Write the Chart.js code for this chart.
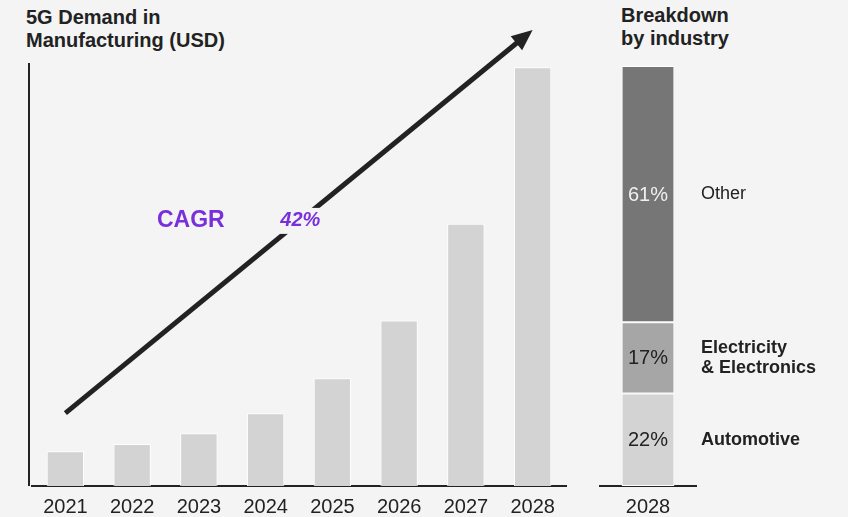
<!DOCTYPE html>
<html>
<head>
<meta charset="utf-8">
<script src="https://cdn.jsdelivr.net/npm/chart.js@4.4.1/dist/chart.umd.min.js"></script>
<style>
  html, body { margin: 0; padding: 0; background: #f4f4f4; }
  #wrap { position: relative; width: 848px; height: 517px; overflow: hidden; font-family: "Liberation Sans", Arial, sans-serif; color: #222; }
  canvas { position: absolute; top: 0; }
  .title { position: absolute; font-weight: bold; font-size: 20px; line-height: 23px; color: #222; }
</style>
</head>
<body>
<div id="wrap">
  <div class="title" style="left:26px; top:6px;">5G Demand in<br>Manufacturing (USD)</div>
  <div class="title" style="left:621px; top:4px;">Breakdown<br>by industry</div>
  <canvas id="demandchart" width="590" height="530" style="left:0;"></canvas>
  <canvas id="sharechart" width="258" height="530" style="left:590px;"></canvas>
</div>
<script>
// left chart: yearly demand (relative, 2028 = 100)
const years = ['2021', '2022', '2023', '2024', '2025', '2026', '2027', '2028'];
const demand = [8.3, 10, 12.6, 17.4, 25.7, 39.5, 62.6, 100];

// CAGR arrow, in chart units (category index, value)
const arrowFrom = [0, 17.4];
const arrowTo = [7, 108.9];
const cagrText = 'CAGR';
const cagrValue = '42%';

// right chart: breakdown by industry for 2028
const breakdownYear = ['2028'];
const industries = [['Automotive'], ['Electricity', '& Electronics'], ['Other']];
const shares = [22, 17, 61];

const font = '"Liberation Sans", Arial, sans-serif';
const ink = '#222';
const bg = '#f4f4f4';

const arrowPlugin = {
    id: 'cagrArrow',
    afterDatasetsDraw(chart) {
        const ctx = chart.ctx;
        const x = chart.scales.x, y = chart.scales.y;
        const area = chart.chartArea;

        // y axis line
        ctx.save();
        ctx.strokeStyle = ink;
        ctx.lineWidth = 2;
        ctx.beginPath();
        ctx.moveTo(area.left - 3, area.top);
        ctx.lineTo(area.left - 3, area.bottom);
        ctx.stroke();

        const x0 = x.getPixelForValue(arrowFrom[0]), y0 = y.getPixelForValue(arrowFrom[1]);
        const x1 = x.getPixelForValue(arrowTo[0]), y1 = y.getPixelForValue(arrowTo[1]);
        const ang = Math.atan2(y1 - y0, x1 - x0);
        const headLen = 21, headW = 9;

        ctx.strokeStyle = ink;
        ctx.fillStyle = ink;
        ctx.lineWidth = 5;
        ctx.beginPath();
        ctx.moveTo(x0, y0);
        ctx.lineTo(x1 - Math.cos(ang) * (headLen - 2), y1 - Math.sin(ang) * (headLen - 2));
        ctx.stroke();

        ctx.beginPath();
        ctx.moveTo(x1, y1);
        const bx = x1 - Math.cos(ang) * headLen, by = y1 - Math.sin(ang) * headLen;
        ctx.lineTo(bx + Math.sin(ang) * headW, by - Math.cos(ang) * headW);
        ctx.lineTo(bx - Math.sin(ang) * headW, by + Math.cos(ang) * headW);
        ctx.closePath();
        ctx.fill();

        // labels
        const ly = y.getPixelForValue(63.3);
        ctx.textBaseline = 'middle';
        ctx.textAlign = 'center';
        ctx.fillStyle = '#7a2fdc';
        ctx.font = 'bold 23px ' + font;
        ctx.fillText(cagrText, x.getPixelForValue(1.88), ly);

        ctx.font = 'italic bold 20px ' + font;
        const px = x.getPixelForValue(3.52);
        const w = ctx.measureText(cagrValue).width;
        ctx.fillStyle = bg;
        ctx.fillRect(px - w / 2 - 3, ly - 13, w + 6, 26);
        ctx.fillStyle = '#7a2fdc';
        ctx.fillText(cagrValue, px, ly);
        ctx.restore();
    }
};

const shareLabels = {
    id: 'shareLabels',
    afterDatasetsDraw(chart) {
        const ctx = chart.ctx;
        const right = chart.scales.x.right;
        ctx.save();
        ctx.textBaseline = 'middle';
        chart.data.datasets.forEach((ds, i) => {
            const bar = chart.getDatasetMeta(i).data[0];
            const cy = (bar.y + bar.base) / 2;
            ctx.textAlign = 'center';
            ctx.font = '20px ' + font;
            ctx.fillStyle = i === 2 ? '#f0f0f0' : ink;
            ctx.fillText(ds.data[0] + '%', bar.x, cy + 1);

            ctx.textAlign = 'left';
            ctx.fillStyle = ink;
            ctx.font = (i === 2 ? '' : 'bold ') + '18px ' + font;
            const lines = industries[i];
            lines.forEach((t, k) => {
                ctx.fillText(t, right + 5, cy + (k - (lines.length - 1) / 2) * 20);
            });
        });
        ctx.restore();
    }
};

new Chart(document.getElementById('demandchart'), {
    type: 'bar',
    data: {
        labels: years,
        datasets: [{
            data: demand,
            backgroundColor: '#d3d3d3',
            borderColor: '#ffffff',
            borderWidth: 1,
            barPercentage: 0.56,
            categoryPercentage: 1
        }]
    },
    options: {
        responsive: false,
        animation: false,
        events: [],
        layout: { padding: { left: 32, right: 24, top: 63, bottom: 2 } },
        plugins: { legend: { display: false }, tooltip: { enabled: false } },
        scales: {
            x: {
                grid: { display: false, drawTicks: false },
                border: { display: true, color: ink, width: 2 },
                ticks: { color: ink, font: { family: font, size: 20 }, padding: 9 }
            },
            y: { display: false, min: 0, max: 101 }
        }
    },
    plugins: [arrowPlugin]
});

const shareColors = ['#d3d3d3', '#a6a6a6', '#767676'];

new Chart(document.getElementById('sharechart'), {
    type: 'bar',
    data: {
        labels: breakdownYear,
        datasets: shares.map((v, i) => ({
            label: industries[i].join(' '),
            data: [v],
            backgroundColor: shareColors[i],
            borderColor: '#ffffff',
            borderWidth: 1,
            borderSkipped: false,
            barPercentage: 0.55,
            categoryPercentage: 1
        }))
    },
    options: {
        responsive: false,
        animation: false,
        events: [],
        layout: { padding: { left: 10, right: 152, top: 66, bottom: 2 } },
        plugins: { legend: { display: false }, tooltip: { enabled: false } },
        scales: {
            x: {
                stacked: true,
                grid: { display: false, drawTicks: false },
                border: { display: true, color: ink, width: 2 },
                ticks: { color: ink, font: { family: font, size: 20 }, padding: 9 }
            },
            y: { display: false, stacked: true, min: 0, max: 100 }
        }
    },
    plugins: [shareLabels]
});
</script>
</body>
</html>
